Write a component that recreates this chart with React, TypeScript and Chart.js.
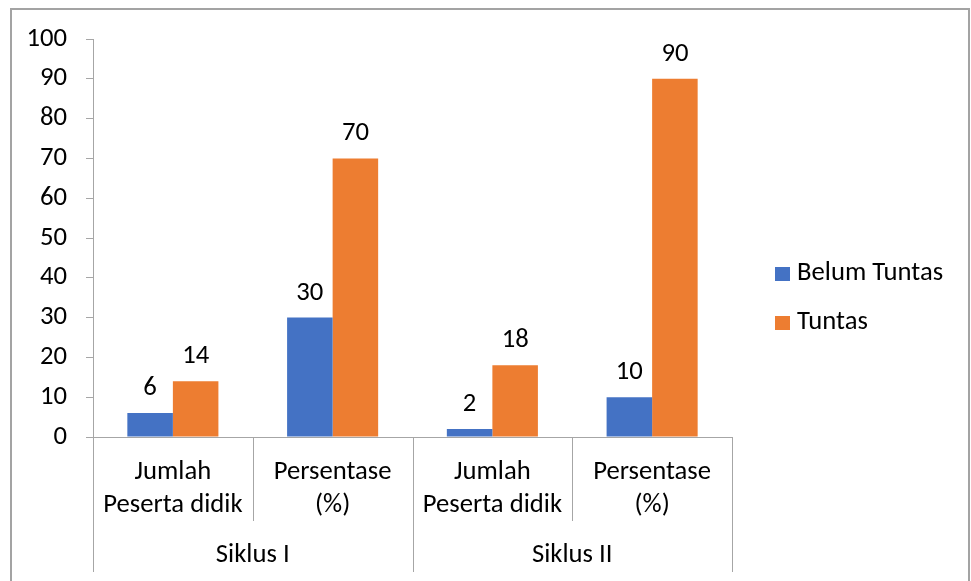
import React, { useEffect, useRef } from "react";
import { Chart, registerables } from "chart.js";

Chart.register(...registerables);

const subCategories: string[][] = [
  ["Jumlah", "Peserta didik"],
  ["Persentase", "(%)"],
  ["Jumlah", "Peserta didik"],
  ["Persentase", "(%)"],
];
const groupLabels = ["Siklus I", "Siklus II"];
const groupSize = 2;
const belumTuntas = [6, 30, 2, 10];
const tuntas = [14, 70, 18, 90];
const seriesNames = ["Belum Tuntas", "Tuntas"];
const seriesColors = ["#4472C4", "#ED7D31"];
const yMin = 0;
const yMax = 100;
const yStep = 10;

const FONT_FAMILY = "Carlito, Lato, sans-serif";
const FONT_SIZE = 26.67;
const AXIS_COLOR = "#a6a6a6";

const overlayPlugin = {
  id: "overlay",
  afterDraw(chart: any) {
    const ctx = chart.ctx as CanvasRenderingContext2D;
    const xs = chart.scales.x;
    const area = chart.chartArea;
    ctx.save();
    // outer chart border
    ctx.strokeStyle = "#a3a3a3";
    ctx.lineWidth = 2;
    ctx.beginPath();
    ctx.moveTo(11, 600);
    ctx.lineTo(11, 9);
    ctx.lineTo(969, 9);
    ctx.lineTo(969, 600);
    ctx.stroke();

    // category dividers
    const n = subCategories.length;
    const bounds: number[] = [];
    for (let i = 0; i <= n; i++) {
      if (i === 0) bounds.push(xs.left);
      else if (i === n) bounds.push(xs.right);
      else bounds.push((xs.getPixelForValue(i - 1) + xs.getPixelForValue(i)) / 2);
    }
    ctx.strokeStyle = AXIS_COLOR;
    ctx.lineWidth = 1;
    bounds.forEach((b, i) => {
      const outer = i % groupSize === 0;
      const x = Math.round(b) + 0.5;
      ctx.beginPath();
      ctx.moveTo(x, area.bottom);
      ctx.lineTo(x, outer ? 572 : 521);
      ctx.stroke();
    });

    // group labels
    ctx.fillStyle = "#000";
    ctx.font = `${FONT_SIZE}px ${FONT_FAMILY}`;
    ctx.textAlign = "center";
    ctx.textBaseline = "middle";
    groupLabels.forEach((g, gi) => {
      const cx = (bounds[gi * groupSize] + bounds[(gi + 1) * groupSize]) / 2;
      ctx.fillText(g, cx, 555);
    });

    // data labels
    ctx.textBaseline = "alphabetic";
    chart.data.datasets.forEach((ds: any, di: number) => {
      const meta = chart.getDatasetMeta(di);
      meta.data.forEach((el: any, i: number) => {
        ctx.fillText(String(ds.data[i]), el.x, el.y - 18);
      });
    });

    // legend
    ctx.textAlign = "left";
    ctx.textBaseline = "middle";
    const legendY = [273, 322];
    chart.data.datasets.forEach((ds: any, di: number) => {
      ctx.fillStyle = ds.backgroundColor;
      ctx.fillRect(775, legendY[di] - 6, 15, 14);
      ctx.fillStyle = "#000";
      ctx.fillText(ds.label, 797, legendY[di]);
    });
    ctx.restore();
  },
};

export default function App() {
  const ref = useRef<HTMLCanvasElement>(null);
  useEffect(() => {
    if (!ref.current) return;
    const chart = new Chart(ref.current, {
      type: "bar",
      data: {
        labels: subCategories,
        datasets: [
          { label: seriesNames[0], data: belumTuntas, backgroundColor: seriesColors[0] },
          { label: seriesNames[1], data: tuntas, backgroundColor: seriesColors[1] },
        ],
      },
      options: {
        animation: false,
        responsive: false,
        devicePixelRatio: 1,
        layout: { padding: { left: 0, top: 39, right: 239, bottom: 0 } },
        datasets: { bar: { categoryPercentage: 0.57, barPercentage: 1.0 } },
        plugins: { legend: { display: false }, tooltip: { enabled: false } },
        scales: {
          x: {
            grid: { display: false },
            border: { display: true, color: AXIS_COLOR, width: 1 },
            ticks: {
              color: "#000",
              padding: 11,
              maxRotation: 0,
              autoSkip: false,
              font: { family: FONT_FAMILY, size: FONT_SIZE, lineHeight: "33px" },
            },
            afterFit: (s: any) => {
              s.height = 144;
            },
          },
          y: {
            min: yMin,
            max: yMax,
            grid: { display: true, drawOnChartArea: false, drawTicks: true, tickLength: 7, color: AXIS_COLOR },
            border: { display: true, color: AXIS_COLOR, width: 1 },
            ticks: {
              stepSize: yStep,
              color: "#000",
              padding: 19,
              font: { family: FONT_FAMILY, size: FONT_SIZE },
            },
            afterFit: (s: any) => {
              s.width = 93;
            },
          },
        },
      },
      plugins: [overlayPlugin],
    });
    return () => chart.destroy();
  }, []);
  return (
    <div style={{ position: "fixed", left: 0, top: 0, width: 971, height: 581, overflow: "hidden", background: "#fff" }}>
      <canvas ref={ref} width={971} height={581} style={{ display: "block", width: 971, height: 581 }} />
    </div>
  );
}
